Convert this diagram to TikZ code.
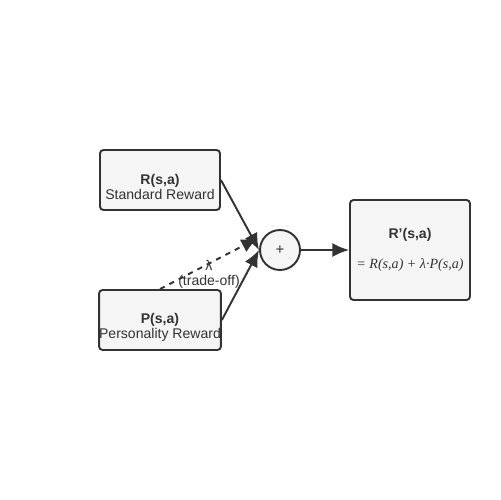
\documentclass[tikz,border=0pt]{standalone}
\usepackage{fontspec}
\setmainfont{Liberation Sans}
\newfontfamily\formfont{Liberation Serif}
\usepackage{tikz}
\usetikzlibrary{arrows.meta}
\definecolor{boxfill}{HTML}{F5F5F5}
\definecolor{ink}{HTML}{333333}
\newcommand{\rfont}{\fontsize{8}{8.6}\selectfont}

\begin{document}
\begin{tikzpicture}[x=0.02cm, y=-0.02cm, bnode/.style={draw=ink, fill=boxfill, line width=1.1pt, rounded corners=2pt, minimum width=2.4cm, minimum height=1.2cm, inner sep=0pt, align=center, text=ink, font=\rfont}, snode/.style={draw=ink, fill=boxfill, line width=1.1pt, circle, minimum size=0.8cm, inner sep=0pt, text=ink, font=\fontsize{8.5}{9}\selectfont}, arr/.style={draw=ink, line width=1.1pt, -{Latex[length=9.5pt,width=8pt]}}]
    \useasboundingbox (0,0) rectangle (500,500);
    \node[bnode] (R) at (160,180) {\rule{0pt}{14pt}\textbf{R(s,a)}\\Standard Reward};
    \node[bnode] (P) at (160,320) {\rule{0pt}{14pt}\textbf{P(s,a)}\\Personality Reward};
    \node[snode] (sum) at (280,250) {+};
    \node[bnode, minimum height=2cm, font=\fontsize{8}{17}\selectfont] (Rp) at (410,250) {\textbf{R'(s,a)}\\{\formfont\itshape = R(s,a) + λ·P(s,a)}};
    \coordinate (lam) at (258,238);

    \draw[arr] (R.east) -- (sum.west) ;
    \draw[arr] (P.east) -- (sum.west) ;
    \draw[arr, dashed] (P.north) to node [pos=0.5, text=ink, font=\rfont, align=center, yshift=-6pt] {λ\\(trade-off)} (lam) ;
    \draw[arr] (sum.east) -- (Rp.west) ;
\end{tikzpicture}
\end{document}
